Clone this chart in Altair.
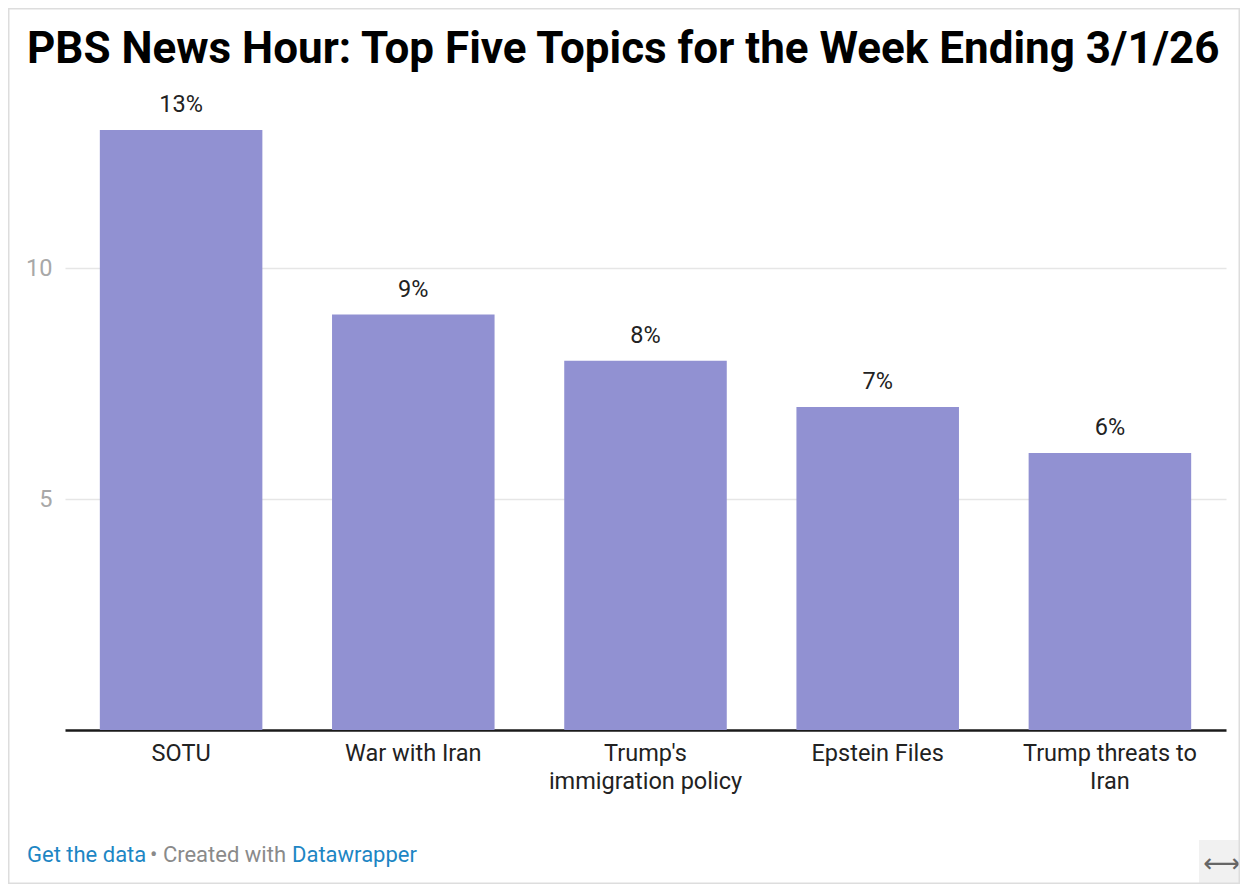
import altair as alt
import pandas as pd

topics = ["SOTU", "War with Iran", "Trump's\nimmigration policy", "Epstein Files", "Trump threats to\nIran"]
shares = [13, 9, 8, 7, 6]
y_ticks = [5, 10]

title_text = "PBS News Hour: Top Five Topics for the Week Ending 3/1/26"
footer_parts = ["Get the data", "\u2022 Created with", "Datawrapper"]

FONT = "Roboto"
BAR = "#9191d2"

df = pd.DataFrame({"topic": topics, "share": shares})
one = pd.DataFrame({"k": [0]})

base = alt.Chart(df)

bars = base.mark_bar(color=BAR).encode(
    x=alt.X("topic:N", sort=None,
            scale=alt.Scale(paddingInner=0.3, paddingOuter=0.15),
            axis=alt.Axis(title=None, labelAngle=0, labelFontSize=23.5, labelFont=FONT,
                          labelColor="#222222", labelPadding=11, labelLineHeight=28,
                          labelExpr="split(datum.label, '\\n')", ticks=False,
                          domainColor="#1a1a1a", domainWidth=2.5, labelLimit=400)),
    y=alt.Y("share:Q", scale=alt.Scale(domain=[0, 13], nice=False),
            axis=alt.Axis(title=None, values=y_ticks, labelFontSize=23.5, labelFont=FONT,
                          labelColor="#a8a8a8", labelPadding=13, ticks=False, domain=False,
                          gridColor="#e6e6e6", gridWidth=1.5)),
)

labels = base.transform_calculate(lbl="datum.share + '%'").mark_text(
    font=FONT, fontSize=23.5, color="#222222", baseline="bottom", dy=-13
).encode(
    x=alt.X("topic:N", sort=None),
    y="share:Q",
    text="lbl:N",
)

title = alt.Chart(one).mark_text(font=FONT, fontSize=44, fontWeight="bold", color="#000000",
                                 align="left", baseline="alphabetic", text=title_text).encode(
    x=alt.value(-38), y=alt.value(-67)
)

footer_x = [-38, 85, 227]
footer_colors = ["#1d86c4", "#8a8a8a", "#1d86c4"]
footer_layers = []
for txt, fx, col in zip(footer_parts, footer_x, footer_colors):
    footer_layers.append(
        alt.Chart(one).mark_text(font=FONT, fontSize=22, color=col, align="left",
                                 baseline="alphabetic", text=txt)
        .encode(x=alt.value(fx), y=alt.value(732))
    )

box = alt.Chart(one).mark_rect(color="#f1f1f1").encode(
    x=alt.value(1134), x2=alt.value(1175), y=alt.value(710), y2=alt.value(754)
)
arrow = alt.Chart(one).mark_text(font="DejaVu Sans", fontSize=26, color="#666666",
                                 text="\u27f7", baseline="middle", align="center").encode(
    x=alt.value(1157), y=alt.value(734)
)
border = alt.Chart(one).mark_rect(fill=None, stroke="#dddddd", strokeWidth=3).encode(
    x=alt.value(-57), x2=alt.value(1175), y=alt.value(-122), y2=alt.value(754)
)

chart = alt.layer(bars, labels, title, box, arrow, border, *footer_layers).properties(
    width=1161, height=600,
    background="white",
    autosize=alt.AutoSizeParams(type="none"),
    padding={"left": 57, "top": 122, "right": 14, "bottom": 154},
).configure_view(stroke="transparent", strokeWidth=0)

chart.save("out.html", embed_options={"renderer": "svg", "actions": False})
